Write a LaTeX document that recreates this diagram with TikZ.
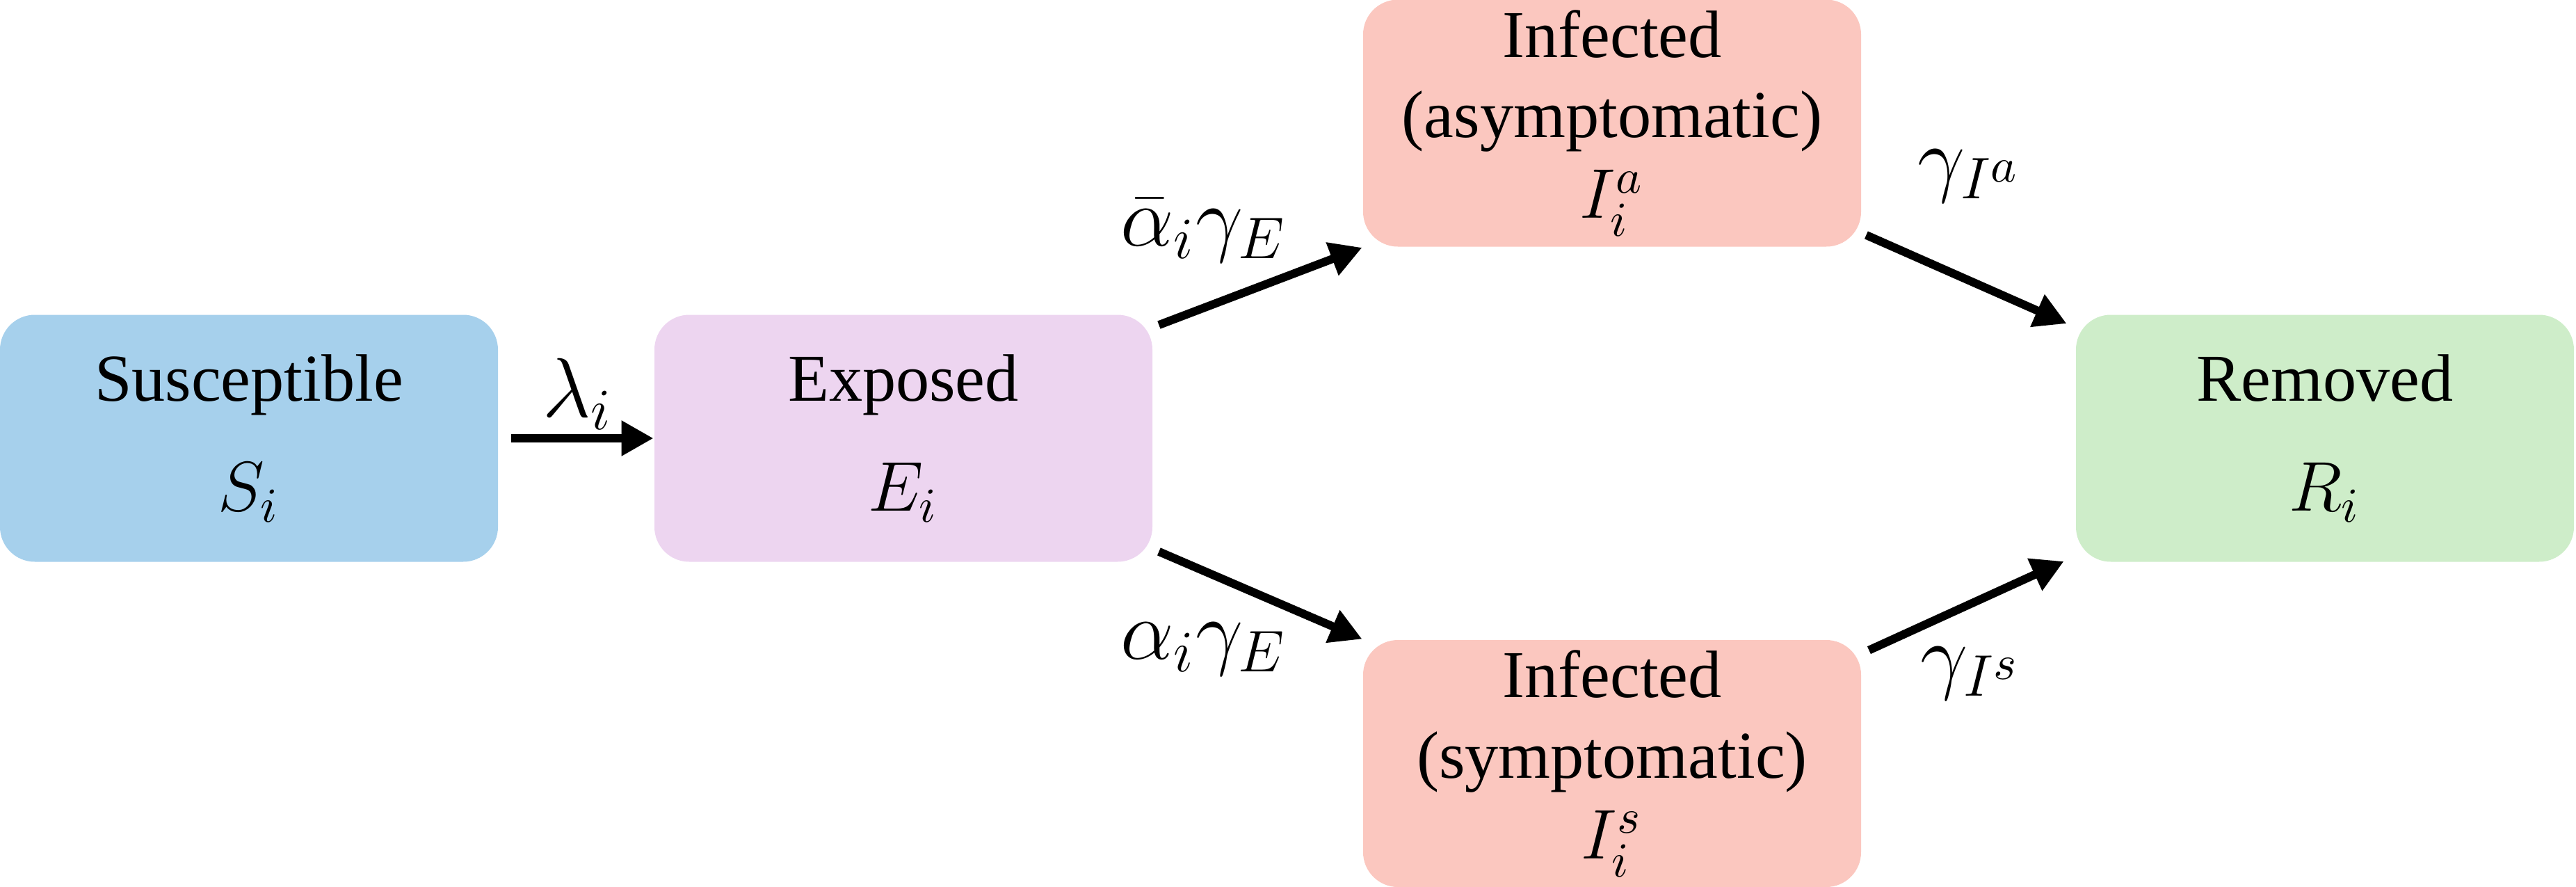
\documentclass[tikz,border=0pt]{standalone}
\usepackage{amsmath}
\usepackage{fontspec}
\setmainfont{Liberation Serif}
\usepackage{tikz}
\usetikzlibrary{arrows.meta,positioning,calc}

\definecolor{suscol}{RGB}{166,208,236}
\definecolor{expcol}{RGB}{237,213,240}
\definecolor{infcol}{RGB}{251,199,191}
\definecolor{remcol}{RGB}{206,237,201}

\begin{document}
\begin{tikzpicture}[
  comp/.style={rectangle, rounded corners=2.5mm, minimum width=3.58cm, minimum height=1.775cm, inner sep=0pt, align=center, font=\fontsize{13.7}{16.5}\selectfont},
  lab/.style={font=\LARGE},
  arr/.style={-{Triangle[length=2.3mm,width=2.4mm]}, line width=1.7pt}]
  \useasboundingbox (0,0) rectangle (18.52,6.37);
  % compartments
  \node[comp, fill=suscol] (S) at (1.79,3.22) {Susceptible\\[6pt]$S_i$};
  \node[comp, fill=expcol] (E) at (6.495,3.22) {Exposed\\[6pt]$E_i$};
  \node[comp, fill=infcol] (Ia) at (11.59,5.485) {Infected\\(asymptomatic)\\$I_i^a$};
  \node[comp, fill=infcol] (Is) at (11.59,0.8825) {Infected\\(symptomatic)\\$I_i^s$};
  \node[comp, fill=remcol] (R) at (16.715,3.22) {Removed\\[6pt]$R_i$};
  % transitions
  \draw[arr] ([xshift=0.9mm]S.east) -- (E.west);
  \draw[arr] ([shift={(0.4mm,-0.8mm)}]E.north east) -- (Ia.south west);
  \draw[arr] ([shift={(0.4mm,0.8mm)}]E.south east) -- (Is.north west);
  \draw[arr] ([shift={(0.3mm,0.9mm)}]Ia.south east) -- ([shift={(-0.6mm,-0.7mm)}]R.north west);
  \draw[arr] ([shift={(0.5mm,-0.8mm)}]Is.north east) -- ([shift={(-0.8mm,0.1mm)}]R.south west);
  % rates
  \node[lab] (lam) at (4.155,3.54) {$\lambda_i$};
  \node[lab] (ra) at (8.655,4.715) {$\bar{\alpha}_i\gamma_E$};
  \node[lab] (rs) at (8.655,1.705) {$\alpha_i\gamma_E$};
  \node[lab] (ga) at (14.16,5.105) {$\gamma_{I^a}$};
  \node[lab] (gs) at (14.17,1.53) {$\gamma_{I^s}$};
\end{tikzpicture}
\end{document}
